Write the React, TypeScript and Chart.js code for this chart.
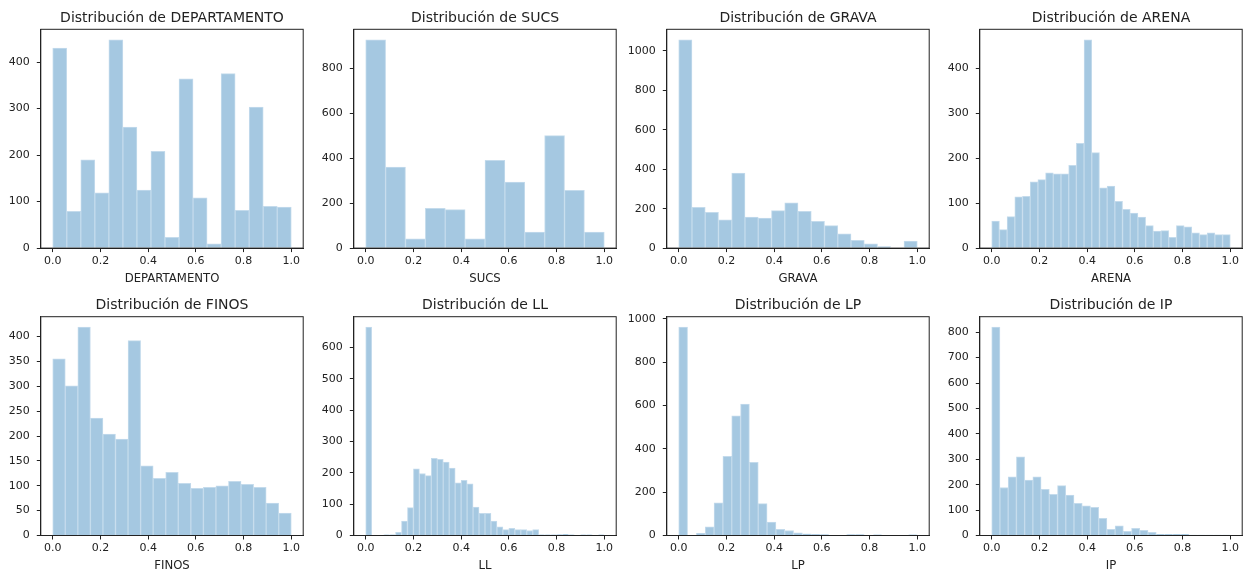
import React, { useEffect, useRef } from "react";
import { Chart, registerables } from "chart.js";

Chart.register(...registerables);

// Column names, one histogram each (values scaled to 0..1, evenly spaced bins)
const variables = ["DEPARTAMENTO", "SUCS", "GRAVA", "ARENA", "FINOS", "LL", "LP", "IP"];

// Bin counts per variable
const departamentoCounts = [430, 79, 190, 119, 448, 260, 125, 208, 23, 364, 108, 9, 375, 81, 303, 90, 88];
const sucsCounts = [927, 360, 41, 177, 171, 41, 390, 294, 71, 500, 257, 71];
const gravaCounts = [1057, 207, 182, 143, 380, 157, 152, 190, 229, 187, 136, 114, 72, 39, 22, 8, 0, 35];
const arenaCounts = [60, 41, 70, 114, 115, 147, 152, 167, 165, 165, 184, 233, 463, 212, 134, 138, 104, 86, 78, 69, 50, 38, 39, 24, 50, 47, 34, 30, 34, 30, 30];
const finosCounts = [355, 301, 419, 236, 204, 194, 392, 140, 115, 127, 105, 95, 97, 100, 109, 103, 97, 65, 45];
const llCounts = [665, 0, 0, 2, 2, 10, 46, 89, 213, 198, 191, 246, 243, 234, 215, 168, 176, 165, 91, 71, 71, 46, 28, 19, 23, 19, 19, 16, 19, 2, 2, 2, 3, 4, 2, 1, 2, 2, 0, 2];
const lpCounts = [962, 2, 10, 40, 151, 366, 552, 607, 338, 147, 62, 28, 23, 12, 8, 5, 4, 2, 2, 4, 4, 1, 3, 1, 2, 0, 3];
const ipCounts = [820, 189, 231, 310, 218, 231, 182, 162, 196, 159, 127, 117, 111, 68, 24, 38, 16, 28, 20, 12, 5, 5, 5, 5, 2, 2, 2, 2, 2];

const countsByVariable = [departamentoCounts, sucsCounts, gravaCounts, arenaCounts, finosCounts, llCounts, lpCounts, ipCounts];

// Tick settings
const yStepSizes = [100, 200, 200, 100, 50, 100, 200, 100];
const xTickValues = [0, 0.2, 0.4, 0.6, 0.8, 1.0];

// Figure geometry (pixels)
const FIG_W = 1245;
const FIG_H = 573;
const AX_LEFTS = [40.8, 353.8, 666.8, 979.8];
const AX_TOPS = [29.3, 316.7];
const AX_W = 262.4;
const AX_H = 218.8;
const PAD_L = 48;
const PAD_T = 34;
const PAD_R = 8;
const PAD_B = 44;

const BAR_FILL = "rgb(165, 200, 225)";
const BAR_EDGE = "rgb(196, 219, 236)";
const INK = "#222222";
const FONT = '"DejaVu Sans", sans-serif';

const framePlugin = {
  id: "frame",
  afterDraw(chart: any, _args: any, opts: any) {
    const { ctx, chartArea } = chart;
    const { left, top, right, bottom } = chartArea;
    ctx.save();
    ctx.strokeStyle = INK;
    ctx.lineWidth = 1;
    ctx.strokeRect(left, top, right - left, bottom - top);
    ctx.fillStyle = INK;
    ctx.textAlign = "center";
    ctx.textBaseline = "alphabetic";
    ctx.font = `14px ${FONT}`;
    ctx.fillText(opts.title, (left + right) / 2, top - 7.5);
    ctx.font = `11.7px ${FONT}`;
    ctx.fillText(opts.xLabel, (left + right) / 2, bottom + 33.5);
    ctx.restore();
  },
};

type PanelProps = { index: number };

function HistogramPanel({ index }: PanelProps) {
  const ref = useRef<HTMLCanvasElement | null>(null);
  const name = variables[index];
  const counts = countsByVariable[index];
  const col = index % 4;
  const row = Math.floor(index / 4);
  const axLeft = AX_LEFTS[col];
  const axTop = AX_TOPS[row];
  const canvasLeft = Math.floor(axLeft) - PAD_L;
  const canvasTop = Math.floor(axTop) - PAD_T;
  const yAxisW = axLeft - canvasLeft;
  const topPad = axTop - canvasTop;
  const canvasW = Math.ceil(yAxisW + AX_W + PAD_R);
  const canvasH = Math.ceil(topPad + AX_H + PAD_B);
  const rightPad = canvasW - yAxisW - AX_W;
  const xAxisH = canvasH - topPad - AX_H;

  useEffect(() => {
    if (!ref.current) return;
    const n = counts.length;
    const data = counts.map((c, i) => ({ x: (i + 0.5) / n, y: c }));
    const yMax = Math.max(...counts) * 1.05;
    const step = yStepSizes[index];
    const yTicks: { value: number }[] = [];
    for (let v = 0; v <= yMax; v += step) yTicks.push({ value: v });

    const chart = new Chart(ref.current, {
      type: "bar",
      data: {
        datasets: [
          {
            data,
            backgroundColor: BAR_FILL,
            borderColor: BAR_EDGE,
            borderWidth: 1,
            borderSkipped: "start",
            barPercentage: 1,
            categoryPercentage: 1,
          },
        ],
      },
      options: {
        responsive: false,
        animation: false,
        events: [],
        layout: { padding: { top: topPad, right: rightPad, left: 0, bottom: 0 }, autoPadding: false },
        plugins: {
          legend: { display: false },
          tooltip: { enabled: false },
          frame: { title: `Distribución de ${name}`, xLabel: name },
        } as any,
        scales: {
          x: {
            type: "linear",
            min: -0.05,
            max: 1.05,
            offset: false,
            afterFit: (s: any) => {
              s.height = xAxisH;
            },
            afterBuildTicks: (s: any) => {
              s.ticks = xTickValues.map((value) => ({ value }));
            },
            grid: {
              display: true,
              offset: false,
              drawOnChartArea: false,
              drawTicks: true,
              tickLength: 4,
              tickWidth: 1,
              tickColor: INK,
            },
            border: { display: true, color: INK, width: 1 },
            ticks: {
              autoSkip: false,
              maxRotation: 0,
              padding: 2,
              color: INK,
              font: { family: FONT, size: 11 },
              callback: (v: any) => Number(v).toFixed(1),
            },
          },
          y: {
            type: "linear",
            min: 0,
            max: yMax,
            afterFit: (s: any) => {
              s.width = yAxisW;
            },
            afterBuildTicks: (s: any) => {
              s.ticks = yTicks.map((t) => ({ ...t }));
            },
            grid: {
              display: true,
              drawOnChartArea: false,
              drawTicks: true,
              tickLength: 4,
              tickWidth: 1,
              tickColor: INK,
            },
            border: { display: true, color: INK, width: 1 },
            ticks: {
              autoSkip: false,
              padding: 7,
              color: INK,
              font: { family: FONT, size: 11 },
              callback: (v: any) => String(Math.round(Number(v))),
            },
          },
        },
      } as any,
      plugins: [framePlugin],
    });
    return () => chart.destroy();
  }, [index]);

  return (
    <canvas
      ref={ref}
      width={canvasW}
      height={canvasH}
      style={{ position: "absolute", left: canvasLeft, top: canvasTop, width: canvasW, height: canvasH }}
    />
  );
}

export default function App() {
  return (
    <div
      style={{
        position: "fixed",
        left: 0,
        top: 0,
        width: FIG_W,
        height: FIG_H,
        overflow: "hidden",
        background: "#ffffff",
      }}
    >
      {variables.map((_, i) => (
        <HistogramPanel key={i} index={i} />
      ))}
    </div>
  );
}
